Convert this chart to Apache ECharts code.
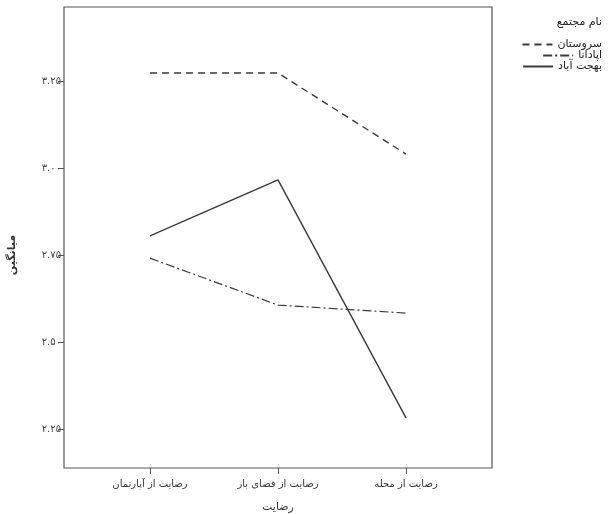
<!DOCTYPE html>
<html>
<head>
<meta charset="utf-8">
<script src="https://cdn.jsdelivr.net/npm/echarts@6/dist/echarts.min.js"></script>
<style>html,body{margin:0;padding:0;background:#fff}#c{width:610px;height:514px}</style>
</head>
<body>
<div id="c"></div>
<script>
var categories = ['رضایت از آپارتمان', 'رضایت از فضای باز', 'رضایت از محله'];
var seriesNames = ['سروستان', 'اپادانا', 'بهجت آباد'];
var sarvestan = [3.273, 3.273, 3.040];
var apadana = [2.741, 2.606, 2.583];
var behjatabad = [2.805, 2.966, 2.282];
var yTickLabels = ['۲.۲۵', '۲.۵۰', '۲.۷۵', '۳.۰۰', '۳.۲۵'];
var yMin = 2.25, yMax = 3.25, yStep = 0.25;

var FONT = 'DejaVu Sans';
var INK = '#3a3a3a';
var chart = echarts.init(document.getElementById('c'), null, {renderer: 'canvas'});

function legendFor(name, top) {
  return {
    data: [{name: name, itemStyle: {opacity: 0}}], right: 8, top: top, orient: 'vertical',
    itemWidth: 30, itemHeight: 10, itemGap: 0, padding: 0,
    itemStyle: {opacity: 0},
    textStyle: {fontFamily: FONT, fontSize: 11, color: '#222'},
    selectedMode: false
  };
}

chart.setOption({
  backgroundColor: '#fff',
  animation: false,
  title: {
    text: 'نام مجتمع', right: 8, top: 17,
    textStyle: {fontFamily: FONT, fontSize: 11, fontWeight: 'normal', color: '#222'},
    padding: 0
  },
  legend: [legendFor(seriesNames[0], 39), legendFor(seriesNames[1], 50), legendFor(seriesNames[2], 61)],
  grid: [
    {left: 150, right: 204, top: 81, bottom: 85, show: false, containLabel: false, outerBoundsMode: 'none'},
    {left: 64, right: 118, top: 7, bottom: 46, show: true, borderColor: '#555', borderWidth: 1.2, backgroundColor: 'transparent', containLabel: false, outerBoundsMode: 'none'}
  ],
  xAxis: [
    {
      gridIndex: 0, type: 'category', data: categories, boundaryGap: false, position: 'bottom',
      offset: 39,
      axisLine: {show: false},
      axisTick: {show: true, length: 6, lineStyle: {color: '#555'}},
      axisLabel: {fontFamily: FONT, fontSize: 10, color: '#333', margin: 11},
      name: 'رضایت', nameLocation: 'middle', nameGap: 34,
      nameTextStyle: {fontFamily: FONT, fontSize: 11, color: '#333'}
    },
    {gridIndex: 1, type: 'value', show: false}
  ],
  yAxis: [
    {
      gridIndex: 0, type: 'value', min: yMin, max: yMax, interval: yStep,
      offset: 86,
      axisLine: {show: false},
      axisTick: {show: true, length: 6, lineStyle: {color: '#555'}},
      splitLine: {show: false},
      axisLabel: {
        fontFamily: FONT, fontSize: 10, color: '#444', margin: 3,
        formatter: function (v) { return yTickLabels[Math.round((v - yMin) / yStep)]; }
      },
      name: 'میانگین', nameLocation: 'middle', nameRotate: 90, nameGap: 46,
      nameTextStyle: {fontFamily: FONT, fontSize: 11, fontWeight: 'bold', color: '#333'}
    },
    {gridIndex: 1, type: 'value', show: false}
  ],
  series: [
    {
      name: seriesNames[0], type: 'line', xAxisIndex: 0, yAxisIndex: 0, data: sarvestan,
      symbol: 'none', color: INK, clip: false,
      lineStyle: {color: INK, width: 1.4, type: [7, 5]}
    },
    {
      name: seriesNames[1], type: 'line', xAxisIndex: 0, yAxisIndex: 0, data: apadana,
      symbol: 'none', color: INK, clip: false,
      lineStyle: {color: INK, width: 1.2, type: [9, 3, 2, 3]}
    },
    {
      name: seriesNames[2], type: 'line', xAxisIndex: 0, yAxisIndex: 0, data: behjatabad,
      symbol: 'none', color: INK, clip: false,
      lineStyle: {color: INK, width: 1.4, type: 'solid'}
    }
  ]
});
</script>
</body>
</html>
